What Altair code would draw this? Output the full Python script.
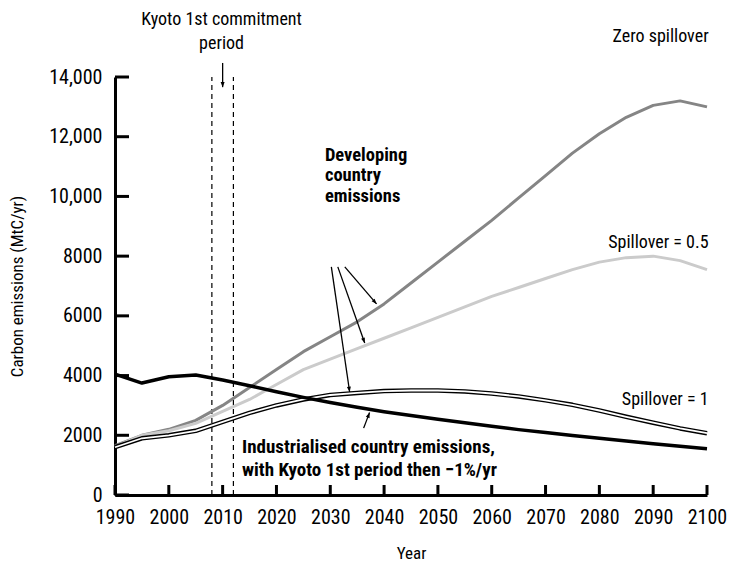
import math
import altair as alt
import pandas as pd

# ---------------- data ----------------
years = [1990, 1995, 2000, 2005, 2010, 2015, 2020, 2025, 2030, 2035, 2040, 2045,
         2050, 2055, 2060, 2065, 2070, 2075, 2080, 2085, 2090, 2095, 2100]
zero_spillover = [1650, 2000, 2200, 2500, 3000, 3600, 4200, 4800, 5300, 5800, 6400, 7100,
                  7800, 8500, 9200, 9950, 10700, 11450, 12100, 12650, 13050, 13200, 13000]
spillover_05 = [1620, 2000, 2150, 2400, 2800, 3200, 3700, 4200, 4550, 4900, 5250, 5600,
                5950, 6300, 6650, 6950, 7250, 7550, 7800, 7950, 8000, 7850, 7550]
spillover_1 = [1600, 1900, 2000, 2150, 2450, 2750, 3000, 3200, 3350, 3420, 3480, 3500,
               3500, 3470, 3400, 3300, 3170, 3020, 2830, 2620, 2420, 2230, 2070]
industrialised = [4050, 3750, 3960, 4020, 3850, 3660, 3460, 3270, 3100, 2940, 2790, 2660,
                  2540, 2420, 2300, 2190, 2090, 1990, 1900, 1810, 1720, 1630, 1550]

kyoto_period = [2008, 2012]
x_ticks = list(range(1990, 2101, 10))
y_ticks = list(range(0, 14001, 2000))

# annotation arrows (start year, start value, end year, end value)
arrows = [
    (2032.7, 7640, 2038.6, 6400),
    (2031.4, 7640, 2036.4, 5090),
    (2030.2, 7640, 2033.6, 3450),
    (2036.2, 2240, 2037.3, 2760),
    (2010.0, 14470, 2010.0, 13660),
]

# ---------------- geometry ----------------
W, H = 592, 418
XMIN, XMAX = 1990, 2100
YMIN, YMAX = 0, 14000
FONT = "Liberation Sans Narrow, Roboto Condensed, DejaVu Sans Condensed, sans-serif"

xs = alt.Scale(domain=[XMIN, XMAX], nice=False, zero=False)
ys = alt.Scale(domain=[YMIN, YMAX], nice=False)

def px(yr, v):
    return ((yr - XMIN) / (XMAX - XMIN) * W, H - (v - YMIN) / (YMAX - YMIN) * H)

series = pd.DataFrame({
    "year": years * 4,
    "value": zero_spillover + spillover_05 + spillover_1 + industrialised,
    "series": (["Zero spillover"] * len(years) + ["Spillover 0.5"] * len(years)
               + ["Spillover 1"] * len(years) + ["Industrialised"] * len(years)),
})

X = alt.X("year:Q", scale=xs,
          axis=alt.Axis(values=x_ticks, format="d", ticks=False, grid=False,
                        labelFlush=False, labelOverlap=False, labelBound=False,
                        domainWidth=3, domainColor="black", labelFont=FONT,
                        labelFontSize=20, labelColor="black", labelPadding=12,
                        title="Year", titleFont=FONT, titleFontSize=17,
                        titleFontWeight="normal", titleColor="black",
                        titleBaseline="middle", titleY=58))
Y = alt.Y("value:Q", scale=ys,
          axis=alt.Axis(values=y_ticks, ticks=False, grid=False,
                        labelExpr="datum.value >= 10000 ? format(datum.value, ',') : format(datum.value, 'd')",
                        labelOverlap=False, labelFlush=False, labelBound=False,
                        domainWidth=3, domainColor="black", labelFont=FONT,
                        labelFontSize=20, labelColor="black", labelPadding=13,
                        title="Carbon emissions (MtC/yr)", titleFont=FONT,
                        titleFontSize=17, titleFontWeight="normal",
                        titleColor="black", titleX=-89, titleY=H / 2,
                        titleAnchor="middle"))

def line(name, color, width):
    return alt.Chart(series).transform_filter(
        alt.datum.series == name
    ).mark_line(color=color, strokeWidth=width, strokeJoin="round").encode(
        x=alt.X("year:Q", scale=xs), y=alt.Y("value:Q", scale=ys))

base = alt.Chart(series).transform_filter(alt.datum.series == "Industrialised").mark_line(
    opacity=0).encode(x=X, y=Y)

l_zero = line("Zero spillover", "#858585", 3)
l_05 = line("Spillover 0.5", "#cbcbcb", 3)
l_1_out = line("Spillover 1", "black", 4.5)
l_1_in = line("Spillover 1", "white", 1.8)
l_ind = line("Industrialised", "black", 3.5)

# tick marks pointing inward
xt = pd.DataFrame({"year": x_ticks})
x_tick_marks = alt.Chart(xt).mark_rule(color="black", strokeWidth=3).encode(
    x=alt.X("year:Q", scale=xs), y=alt.value(H), y2=alt.value(H - 10))
yt = pd.DataFrame({"value": y_ticks})
y_tick_marks = alt.Chart(yt).mark_rule(color="black", strokeWidth=3).encode(
    y=alt.Y("value:Q", scale=ys), x=alt.value(0), x2=alt.value(14))

# Kyoto period dashed lines
kp = pd.DataFrame({"year": kyoto_period, "lo": [YMIN] * 2, "hi": [YMAX] * 2})
kyoto = alt.Chart(kp).mark_rule(color="black", strokeWidth=1.2, strokeDash=[5, 4]).encode(
    x=alt.X("year:Q", scale=xs), y=alt.Y("lo:Q", scale=ys), y2="hi:Q")

# arrows
ad = pd.DataFrame([{"x1": a[0], "y1": a[1], "x2": a[2], "y2": a[3]} for a in arrows])
arrow_lines = alt.Chart(ad).mark_rule(color="black", strokeWidth=1.3).encode(
    x=alt.X("x1:Q", scale=xs), y=alt.Y("y1:Q", scale=ys), x2="x2:Q", y2="y2:Q")
heads = []
for a in arrows:
    p1 = px(a[0], a[1]); p2 = px(a[2], a[3])
    ang = math.degrees(math.atan2(p2[0] - p1[0], -(p2[1] - p1[1]))) % 360
    heads.append({"x": a[2], "y": a[3], "angle": ang})
hd = pd.DataFrame(heads)
arrow_heads = alt.Chart(hd).mark_point(
    shape="M0,0L-0.38,1L0.38,1Z", filled=True, color="black", size=110, opacity=1
).encode(x=alt.X("x:Q", scale=xs), y=alt.Y("y:Q", scale=ys),
         angle=alt.Angle("angle:Q", scale=None))

# text annotations
def label(rows, align, bold=False, size=18):
    df = pd.DataFrame(rows, columns=["x", "y", "t"])
    return alt.Chart(df).mark_text(
        align=align, baseline="middle", font=FONT, fontSize=size,
        fontWeight="bold" if bold else "normal", color="black"
    ).encode(x=alt.X("x:Q", scale=xs), y=alt.Y("y:Q", scale=ys), text="t:N")

t_kyoto = label([(2009.8, 15920, "Kyoto 1st commitment"), (2009.8, 15110, "period")], "center")
t_right = label([(2100.3, 15340, "Zero spillover"), (2100.3, 8440, "Spillover = 0.5"),
                 (2100.3, 3180, "Spillover = 1")], "right")
t_dev = label([(2029.0, 11390, "Developing"), (2029.0, 10720, "country"),
               (2029.0, 10030, "emissions")], "left", bold=True, size=18.5)
t_ind = label([(2013.6, 1610, "Industrialised country emissions,"),
               (2013.6, 840, "with Kyoto 1st period then \u22121%/yr")], "left", bold=True, size=19)

chart = alt.layer(
    base, kyoto, l_zero, l_05, l_1_out, l_1_in, l_ind,
    x_tick_marks, y_tick_marks, arrow_lines, arrow_heads,
    t_kyoto, t_right, t_dev, t_ind
).properties(
    width=W, height=H,
    autosize=alt.AutoSizeParams(type="none"),
    padding={"left": 107, "top": 69, "right": 21, "bottom": 66},
).configure_view(stroke=None)

chart.save("out.html", embed_options={"renderer": "svg", "actions": False})
